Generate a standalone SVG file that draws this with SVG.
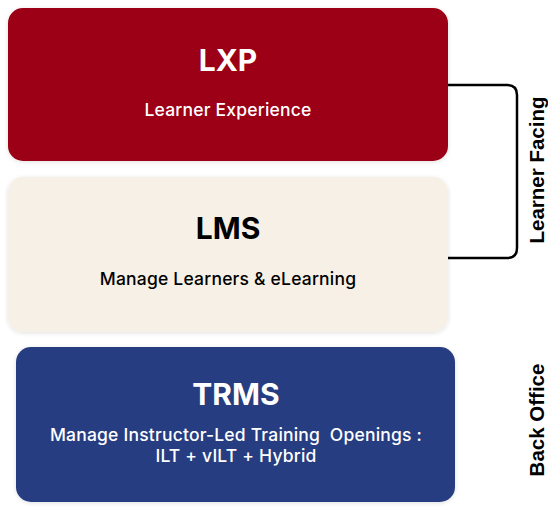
<svg xmlns="http://www.w3.org/2000/svg" width="548" height="512" viewBox="0 0 548 512">
  <defs>
    <filter id="sh" x="-10%" y="-10%" width="120%" height="130%">
      <feDropShadow dx="0" dy="1" stdDeviation="2" flood-color="#000" flood-opacity="0.12"/>
    </filter>
  </defs>
  <style>
    .title{font-family:Inter,"Liberation Sans",sans-serif;font-weight:700;font-size:30px;text-anchor:middle}
    .sub{font-family:Inter,"Liberation Sans",sans-serif;font-weight:500;font-size:17.5px;text-anchor:middle;letter-spacing:0.2px}
    .side{font-family:"Liberation Sans",Arial,sans-serif;font-weight:700;font-size:20.5px;text-anchor:middle;fill:#000}
    .conn{fill:none;stroke:#000;stroke-width:2.5}
  </style>
  <rect width="548" height="512" fill="#fff"/>
  <g id="lxp">
    <rect x="8" y="8" width="440" height="153" rx="15" fill="#9B0614" filter="url(#sh)"/>
    <text class="title" x="228" y="71" fill="#fff">LXP</text>
    <text class="sub" x="228" y="116" fill="#fff">Learner Experience</text>
  </g>
  <g id="lms">
    <rect x="8" y="177" width="440" height="155" rx="15" fill="#F7F0E6" filter="url(#sh)"/>
    <text class="title" x="228" y="239" fill="#000">LMS</text>
    <text class="sub" x="228" y="285" fill="#000">Manage Learners &amp; eLearning</text>
  </g>
  <g id="trms">
    <rect x="16" y="347" width="439" height="155" rx="15" fill="#283C81" filter="url(#sh)"/>
    <text class="title" x="236" y="405" fill="#fff">TRMS</text>
    <text class="sub" x="236" y="441" fill="#fff" xml:space="preserve">Manage Instructor-Led Training  Openings :</text>
    <text class="sub" x="236" y="462" fill="#fff">ILT + vILT + Hybrid</text>
  </g>
  <g id="connectors">
    <path class="conn" d="M448 85 H507 Q517 85 517 95 V248 Q517 258 507 258 H448"/>
  </g>
  <g id="learner-facing">
    <text class="side" transform="translate(544 170) rotate(-90)">Learner Facing</text>
  </g>
  <g id="back-office">
    <text class="side" transform="translate(544 420) rotate(-90)">Back Office</text>
  </g>
</svg>
